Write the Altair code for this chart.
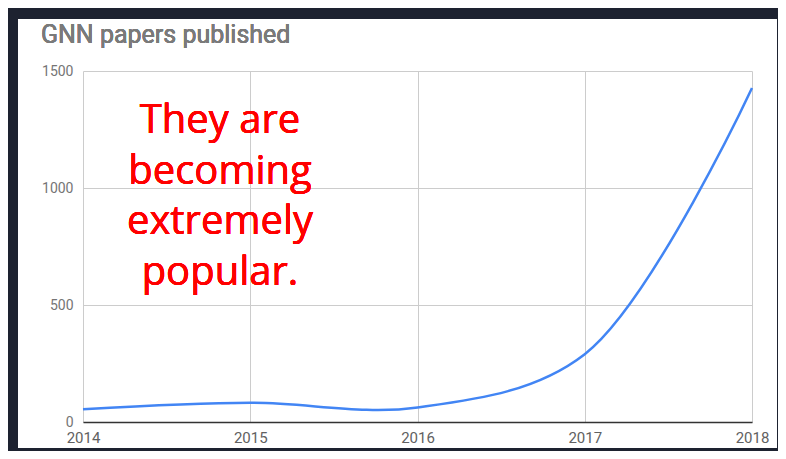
import altair as alt
import pandas as pd

# Data
years = [2014, 2015, 2016, 2017, 2018]
papers = [55, 82, 62, 290, 1427]

title_text = "GNN papers published"
note_lines = ["They are", "becoming", "extremely", "popular."]
y_ticks = [0, 500, 1000, 1500]

df = pd.DataFrame({"year": years, "papers": papers})

W, H = 669, 351

frame = alt.Chart(df).mark_rect(
    fill="#ffffff", fillOpacity=0, stroke="#1d2230", strokeWidth=22, clip=False
).encode(
    x=alt.value(-76), x2=alt.value(705), y=alt.value(-63), y2=alt.value(388)
)

line = alt.Chart(df).mark_line(
    color="#4285F4", strokeWidth=2.5, interpolate="catmull-rom"
).encode(
    x=alt.X("year:Q", scale=alt.Scale(domain=[2014, 2018], nice=False),
            axis=alt.Axis(values=years, format="d", title=None, grid=True,
                          gridColor="#cccccc", labelFontSize=15, labelColor="#616161",
                          labelFont="Roboto", labelPadding=8, ticks=False,
                          domainColor="#333333", domainWidth=1.5, labelFlush=False)),
    y=alt.Y("papers:Q", scale=alt.Scale(domain=[0, 1500], nice=False),
            axis=alt.Axis(values=y_ticks, format="d", title=None, grid=True,
                          gridColor="#cccccc", labelFontSize=14, labelColor="#757575",
                          labelFont="Roboto", labelPadding=10, ticks=False,
                          domain=False)),
)

note = alt.Chart(df).mark_text(
    text=note_lines, font="Open Sans", fontSize=40, color="#ff0000",
    align="center", baseline="alphabetic", lineHeight=50.7
).encode(x=alt.value(137), y=alt.value(62))

title = alt.Chart(df).mark_text(
    text=title_text, font="Roboto", fontSize=25, fontWeight="normal",
    color="#7a7a7a", align="left", baseline="alphabetic", clip=False
).encode(x=alt.value(-42), y=alt.value(-28))

chart = alt.layer(line, note, title, frame).properties(
    width=W, height=H,
    background="#ffffff",
    autosize=alt.AutoSizeParams(type="none"),
    padding={"left": 75, "top": 63, "right": 26, "bottom": 29},
).configure_view(strokeWidth=0)

chart.save("out.html", embed_options={"renderer": "svg", "actions": False})
